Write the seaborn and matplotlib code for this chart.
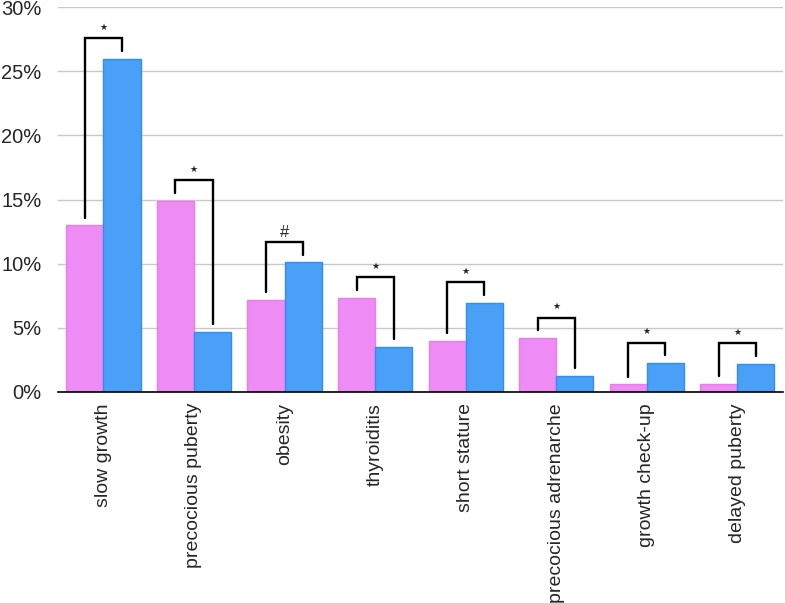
import pandas as pd
import matplotlib
matplotlib.use("Agg")
import matplotlib.pyplot as plt
import seaborn as sns

# Values (percent)
categories = ["slow growth", "precocious puberty", "obesity", "thyroiditis",
              "short stature", "precocious adrenarche", "growth check-up",
              "delayed puberty"]
group_a = [13.0, 14.9, 7.2, 7.35, 4.0, 4.2, 0.6, 0.65]
group_b = [26.0, 4.7, 10.1, 3.5, 6.95, 1.25, 2.25, 2.2]
signs = ["★", "★", "#", "★", "★", "★", "★", "★"]
series_names = ["A", "B"]

data = pd.DataFrame({
    "category": categories * 2,
    "value": group_a + group_b,
    "group": [series_names[0]] * len(categories) + [series_names[1]] * len(categories),
})

sns.set_style("white")
plt.rcParams["font.family"] = ["Liberation Sans", "DejaVu Sans"]

fig = plt.figure(figsize=(7.85, 6.03), dpi=100)
ax = fig.add_axes([0.074, 0.35, 0.923, 0.638])

sns.barplot(data=data, x="category", y="value", hue="group",
            palette=["#EE8BF4", "#4A9FF6"], width=0.82, saturation=1,
            edgecolor=None, linewidth=0, legend=False, ax=ax)

# slightly darker outline like the reference
for bar, col in zip(ax.patches, ["#E77EEC"] * 8 + ["#2F8FF2"] * 8):
    bar.set_edgecolor(col)
    bar.set_linewidth(1)

ax.set_ylim(0, 30)
ax.set_xlim(-0.5, 7.5)
ax.set_yticks(range(0, 31, 5))
ax.set_yticklabels([f"{t}%" for t in range(0, 31, 5)], fontsize=14.5)
ax.yaxis.grid(True, color="#C8C8C8", linewidth=1)
ax.set_axisbelow(True)
ax.tick_params(axis="x", labelrotation=90, labelsize=14, length=0, pad=8)
ax.tick_params(axis="y", length=0, pad=12)
ax.set_xlabel("")
ax.set_ylabel("")
for side in ["top", "right", "left"]:
    ax.spines[side].set_visible(False)
ax.spines["bottom"].set_color("black")
ax.spines["bottom"].set_linewidth(1.2)

# significance brackets
half = 0.82 / 4
for i, (a, b, s) in enumerate(zip(group_a, group_b, signs)):
    top = max(a, b) + 1.6
    xl, xr = i - half, i + half
    ax.plot([xl, xl, xr, xr], [a + 0.6, top, top, b + 0.6],
            color="black", linewidth=1.7, solid_joinstyle="miter")
    if s == "#":
        ax.text(i, top + 0.15, s, ha="center", va="bottom", fontsize=12)
    else:
        ax.text(i, top + 0.5, s, ha="center", va="bottom", fontsize=6.5,
                family=["DejaVu Sans"])

fig.savefig("out.png", dpi=100)
